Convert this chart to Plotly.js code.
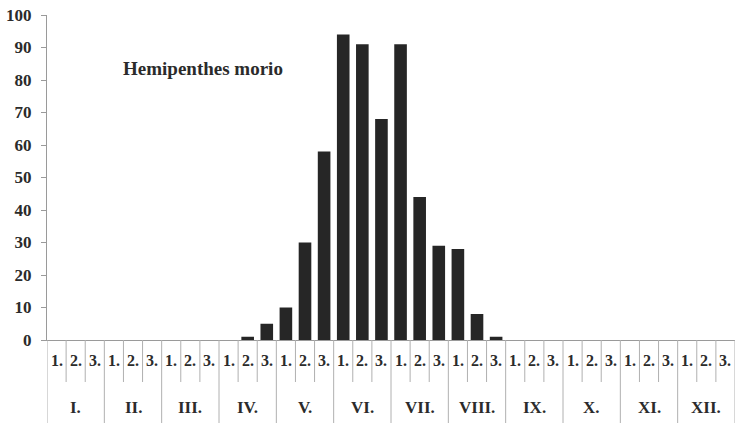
<!DOCTYPE html>
<html>
<head>
<meta charset="utf-8">
<script src="https://cdn.plot.ly/plotly-3.0.1.min.js"></script>
<style>html,body{margin:0;padding:0;background:#fff;}#chart{width:735px;height:423px;}</style>
</head>
<body>
<div id="chart"></div>
<script>
const months = ['I.','II.','III.','IV.','V.','VI.','VII.','VIII.','IX.','X.','XI.','XII.'];
const decades = ['1.','2.','3.'];
const counts = [
  0,0,0,   0,0,0,   0,0,0,   0,1,5,
  10,30,58, 94,91,68, 91,44,29, 28,8,1,
  0,0,0,   0,0,0,   0,0,0,   0,0,0
];
const yTicks = [0,10,20,30,40,50,60,70,80,90,100];

const plotH = 325; // px of y range
const px = v => -v / plotH;

const xs = counts.map((_, i) => i);
const font = 'Liberation Serif';
const txt = '#2b2b2b';
const lineCol = '#9a9a9a';

const shapes = [];
const annotations = [];
for (let i = 0; i <= counts.length; i++) {
  const isMonth = i % 3 === 0;
  shapes.push({type:'line', xref:'x', yref:'paper', x0:i-0.5, x1:i-0.5, y0:0, y1: isMonth ? px(83) : px(42),
    line:{color:'#b0b0b0', width:1}});
}
xs.forEach(i => {
  annotations.push({xref:'x', yref:'paper', x:i, y:px(21), text:'<b>'+decades[i%3]+'</b>', showarrow:false,
    font:{family:font, size:16, color:txt}, xanchor:'center', yanchor:'middle'});
});
months.forEach((m, k) => {
  annotations.push({xref:'x', yref:'paper', x:k*3+1, y:px(67), text:'<b>'+m+'</b>', showarrow:false,
    font:{family:font, size:17, color:txt}, xanchor:'center', yanchor:'middle'});
});
annotations.push({xref:'paper', yref:'paper', x:(121-47)/688, y:(340-68)/plotH, text:'<b>Hemipenthes morio</b>',
  showarrow:false, xanchor:'left', yanchor:'middle', font:{family:font, size:19, color:txt}});

Plotly.newPlot('chart', [{
  type:'bar', x: xs, y: counts,
  marker:{color:'#262626', line:{width:0}},
  hoverinfo:'skip'
}], {
  width:735, height:423,
  margin:{l:47, r:0, t:15, b:83},
  paper_bgcolor:'#fff', plot_bgcolor:'#fff',
  bargap:0.34,
  showlegend:false,
  font:{family:font},
  xaxis:{range:[-0.5, counts.length-0.5], showticklabels:false, ticks:'', showgrid:false, zeroline:false,
    showline:true, linecolor:lineCol, linewidth:1, fixedrange:true},
  yaxis:{range:[0,100], tickvals:yTicks, ticks:'outside', ticklen:5, tickcolor:lineCol, showgrid:false,
    zeroline:false, showline:true, linecolor:lineCol, linewidth:1, ticklabelstandoff:6,
    tickfont:{family:font, size:17, color:txt, weight:'bold'}, fixedrange:true},
  shapes: shapes,
  annotations: annotations
}, {staticPlot:true, displayModeBar:false});
</script>
</body>
</html>
